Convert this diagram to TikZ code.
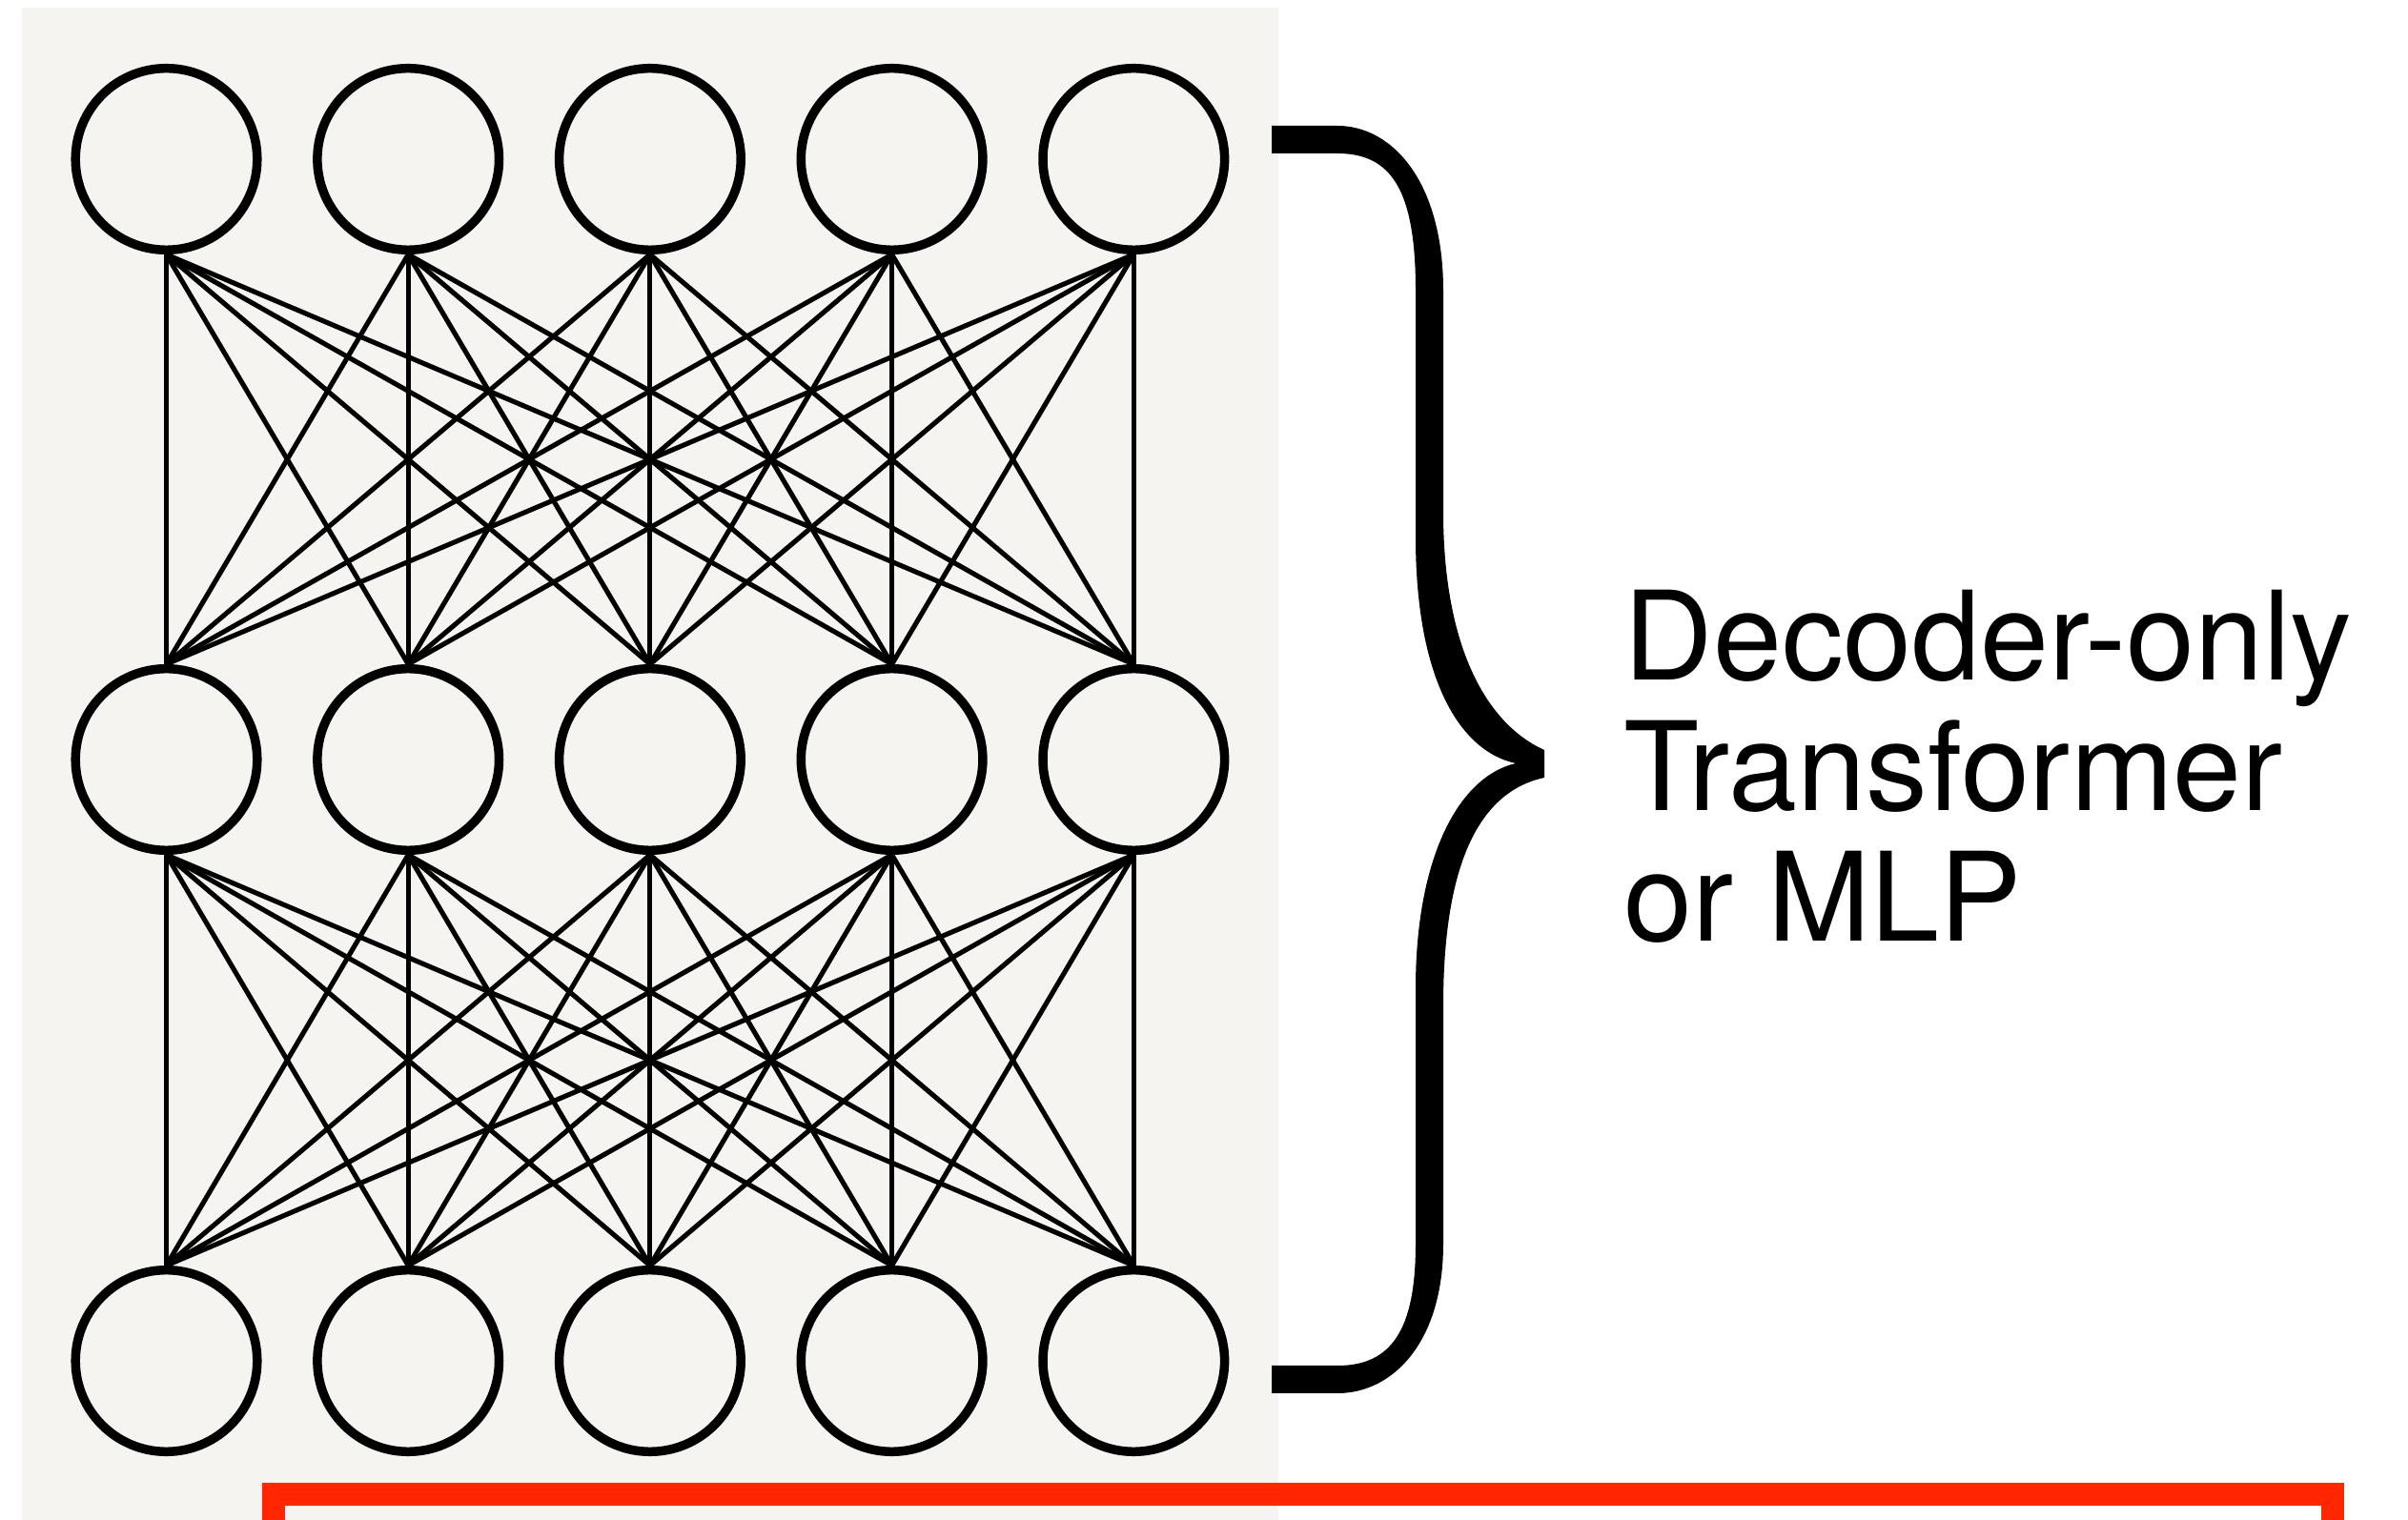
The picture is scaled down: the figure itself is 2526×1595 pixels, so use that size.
\documentclass[tikz,border=0pt]{standalone}
\usepackage{fontspec}
\setmainfont{TeX Gyre Heros}
\usepackage{tikz}
\usetikzlibrary{calc}

\definecolor{panel}{RGB}{245,244,240}
\definecolor{frame}{RGB}{255,38,0}

\begin{document}
\begin{tikzpicture}[x=0.01cm,y=-0.01cm,
    neuron/.style={draw, circle, line width=2.7pt, minimum size=1.905cm, inner sep=0pt},
    edge/.style={line width=1.45pt}]
    \useasboundingbox (0,0) rectangle (2526,1595);
    \fill[white] (0,0) rectangle (2526,1595);
    \fill[panel] (23,8) rectangle (1341,1595);
    \draw[frame, line width=0.24cm] (287,1700)--(287,1568)--(2447,1568)--(2447,1700);
    % three layers of five neurons
    \foreach \r/\y in {1/167,2/797,3/1428}{
        \foreach \c in {1,...,5}{
            \node[neuron] (n\r\c) at ({174.5+253.7*(\c-1)},\y){};
        }
    }
    % fully connected between layers
    \foreach \r/\s in {1/2,2/3}{
        \foreach \i in {1,...,5}{
            \foreach \j in {1,...,5}{
                \draw[edge] (n\r\i.south)--(n\s\j.north);
            }
        }
    }
    % brace
    \fill (1334,132)--(1403,132)
        .. controls (1460,132) and (1514,190) .. (1514,305)
        --(1514,537)
        .. controls (1514,680) and (1560,760) .. (1620,787)
        --(1620,816)
        .. controls (1555,830) and (1514,900) .. (1514,1055)
        --(1514,1305)
        .. controls (1514,1410) and (1460,1462) .. (1403,1462)
        --(1334,1462)--(1334,1433)--(1403,1433)
        .. controls (1460,1433) and (1485,1395) .. (1485,1305)
        --(1485,1037)
        .. controls (1485,900) and (1530,815) .. (1590,801)
        .. controls (1530,788) and (1485,710) .. (1485,564)
        --(1485,305)
        .. controls (1485,200) and (1460,161) .. (1403,161)
        --(1334,161)--cycle;
    \node[anchor=base west, align=left, inner sep=0pt,
        font=\fontsize{36.8}{39}\selectfont] (label) at (1703,988)
        {Decoder-only\\Transformer\\or MLP};
\end{tikzpicture}
\end{document}
